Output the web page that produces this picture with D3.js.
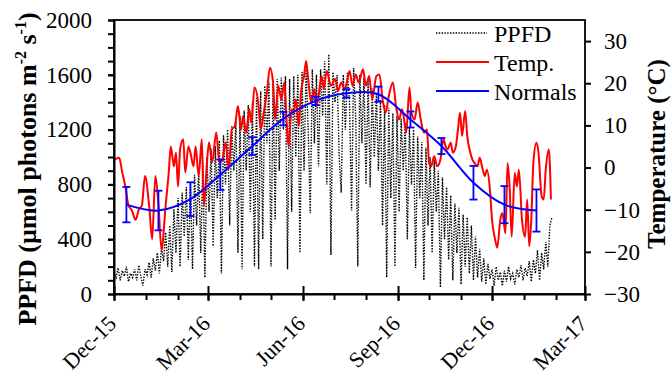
<!DOCTYPE html>
<html>
<head>
<meta charset="utf-8">
<script src="https://cdn.jsdelivr.net/npm/d3@7"></script>
<style>
  body { margin: 0; background: #fff; }
  svg { display: block; }
  text { font-family: "Times New Roman", "Liberation Serif", serif; fill: #000; }
</style>
</head>
<body>
<svg id="chart" width="672" height="376"></svg>
<script>
// ---- data ----
const startDate = new Date(2015, 11, 1);

// daily PPFD, one value every 2 days from Dec 1 2015
const ppfdStep = 2;
const ppfdValues = [
  160, 120, 190, 100, 170, 130, 200, 90, 150, 120, 180, 100, 210, 130, 60, 180,
  140, 230, 120, 260, 170, 300, 150, 340, 240, 450, 200, 500, 160, 620, 300, 700,
  200, 740, 420, 780, 250, 800, 180, 870, 500, 900, 300, 960, 120, 1000, 600, 1060,
  350, 1080, 700, 1120, 150, 1160, 800, 1200, 500, 1230, 900, 1260, 300, 1300, 180, 1340,
  900, 1380, 600, 1400, 200, 1430, 180, 1480, 400, 1520, 1100, 1550, 200, 1560, 540, 1570,
  900, 1580, 1200, 1590, 180, 1570, 600, 1590, 1000, 1600, 300, 1620, 900, 1650, 1200, 590,
  1640, 1100, 1600, 930, 1640, 1300, 1700, 800, 1750, 285, 1620, 1400, 1600, 1000, 740, 1600,
  1200, 1620, 1400, 610, 1650, 1300, 200, 1600, 1100, 1580, 800, 1560, 780, 1500, 1000, 1467,
  900, 1420, 500, 1380, 120, 1360, 700, 1320, 200, 1300, 600, 1280, 900, 1250, 400, 1220,
  800, 1200, 190, 1150, 700, 1110, 100, 1070, 500, 1000, 300, 980, 600, 900, 50, 850,
  400, 780, 250, 720, 100, 660, 300, 630, 70, 580, 200, 560, 150, 500, 100, 420,
  120, 330, 90, 260, 70, 220, 110, 180, 60, 200, 100, 160, 60, 170, 90, 200,
  110, 150, 70, 180, 120, 210, 100, 190, 130, 240, 90, 250, 150, 320, 100, 300,
  180, 380, 200, 500, 560
];

// daily air temperature (°C): day offset from Dec 1 2015, value
const tempDays = [
  0, 5, 8, 11, 14, 17, 21, 24, 27, 30, 34, 37, 40, 43, 46, 50, 53, 55, 58, 60,
  62, 64, 67, 69, 72, 74, 77, 79, 82, 85, 87, 90, 92, 95, 99, 102, 105, 108, 111, 114,
  117, 120, 123, 125, 128, 131, 133, 136, 140, 142, 145, 148, 151, 154, 156, 159, 162, 165, 167, 169,
  172, 174, 176, 179, 181, 184, 186, 188, 191, 194, 196, 198, 201, 203, 206, 210, 214, 217, 220, 223,
  225, 228, 231, 234, 237, 241, 244, 247, 250, 254, 257, 260, 263, 266, 270, 273, 276, 279, 283, 286,
  288, 291, 294, 297, 300, 303, 305, 307, 310, 313, 316, 319, 321, 323, 326, 328, 331, 333, 335, 337,
  340, 342, 345, 347, 349, 352, 354, 357, 359, 361, 364, 366, 369, 371, 374, 376, 379, 381, 383, 385,
  388, 390, 392, 395, 398, 400, 402, 404, 406, 409, 411, 414, 416, 418, 421, 423
];
const tempValues = [
  1.9, 2.3, -1.2, -4.5, -9, -10, -12.4, -10, -9, -2, -9, -17, -2, -8.6, -19.5, -9, -1.2, 5, 0.3, 3.5,
  -4.5, 4.3, 6.7, -1.2, 5, 3.5, 0.3, 5, -2, 6.7, -9.2, 1.2, 6, 1.2, 8.3, 1.2, 1.9, 6, -0.5, 9,
  9.8, 14.6, 9, 12.2, 8.3, 13.8, 10.6, 19, 14.6, 9, 13, 17.8, 23.7, 20.2, 11.4, 19.4, 16.2, 20.2, 11.4, 5,
  13.8, 13, 16.2, 9.8, 17.8, 21.7, 25.3, 21, 15.4, 18.6, 14.6, 17, 21.7, 18.6, 22.9, 19.4, 21, 18.2, 20.2, 18.6,
  19.8, 22.9, 19.4, 22.1, 20.2, 23.3, 19.4, 21.7, 16.2, 21.7, 22.1, 16.2, 13, 16.9, 20.2, 14.6, 11.4, 13.8, 8.3, 19,
  13, 11.4, 15.4, 11.4, 8.3, 9, 1.1, 0.3, 2.7, 0.3, 1.9, 6.7, 5.1, 4.3, 5.9, 3.5, 5.1, 9, 13, 7.5,
  13.4, 7.5, 3.5, 1.9, 1.1, 0.3, 2.3, -0.5, -2, -0.5, -5.3, -12.4, -17.1, -19, -12.4, -10.8, -15.6, 1.1, -4.5, -16.4,
  -1.3, -4.5, -0.5, -12.4, -16.4, -7.6, -18.7, -12.4, 1.1, 5.9, 3.5, -6.8, -7.6, -0.5, 4.3, -7.6
];

// monthly climate normals (°C) with standard deviation, Dec 2015 .. Jan 2017
const normalMonths = [
  [2015, 11], [2016, 0], [2016, 1], [2016, 2], [2016, 3], [2016, 4], [2016, 5],
  [2016, 6], [2016, 7], [2016, 8], [2016, 9], [2016, 10], [2016, 11], [2017, 0]
];
const normalValues = [-8.8, -10.2, -7.5, -1.7, 5.1, 11.6, 15.8, 17.6, 17.4, 11.4, 5.1, -3.6, -8.8, -10.2];
const normalErrors = [4.2, 4.7, 4, 3.6, 2.1, 1.6, 1, 1, 1.8, 1.9, 1.9, 4, 4.4, 5];

const xTickLabels = ["Dec-15", "Mar-16", "Jun-16", "Sep-16", "Dec-16", "Mar-17"];
const ppfdTicks = [0, 400, 800, 1200, 1600, 2000];
const tempTicks = [-30, -20, -10, 0, 10, 20, 30];
const legendLabels = ["PPFD", "Temp.", "Normals"];

// ---- layout ----
const svg = d3.select('#chart');
const plot = { left: 114, right: 585, top: 20, bottom: 294 };

const parseTick = d3.timeParse('%b-%y');
const x = d3.scaleTime()
  .domain([startDate, new Date(2017, 2, 1)])
  .range([plot.left, plot.right]);
const yPpfd = d3.scaleLinear().domain([0, 2000]).range([plot.bottom, plot.top]);
const yTemp = d3.scaleLinear().domain([-30, 35]).range([plot.bottom, plot.top]);

const ppfdData = ppfdValues.map((v, i) => ({ date: d3.timeDay.offset(startDate, i * ppfdStep), v }));
const tempData = tempDays.map((d, i) => ({ date: d3.timeDay.offset(startDate, d), v: tempValues[i] }));
const normalData = normalMonths.map((m, i) => ({
  date: new Date(m[0], m[1], 13), v: normalValues[i], e: normalErrors[i]
}));

// series
svg.append('path')
  .datum(ppfdData)
  .attr('fill', 'none')
  .attr('stroke', '#000')
  .attr('stroke-width', 1.4)
  .attr('stroke-dasharray', '1.4,1.4')
  .attr('d', d3.line().x(d => x(d.date)).y(d => yPpfd(d.v)));

svg.append('path')
  .datum(tempData)
  .attr('fill', 'none')
  .attr('stroke', '#ff0000')
  .attr('stroke-width', 2)
  .attr('stroke-linejoin', 'round')
  .attr('d', d3.line().curve(d3.curveMonotoneX).x(d => x(d.date)).y(d => yTemp(d.v)));

svg.append('path')
  .datum(normalData)
  .attr('fill', 'none')
  .attr('stroke', '#0000ff')
  .attr('stroke-width', 2)
  .attr('d', d3.line().curve(d3.curveCatmullRom).x(d => x(d.date)).y(d => yTemp(d.v)));

// error bars
const err = svg.append('g').attr('stroke', '#0000ff').attr('stroke-width', 1.8);
normalData.forEach(d => {
  const cx = x(d.date), y0 = yTemp(d.v - d.e), y1 = yTemp(d.v + d.e);
  err.append('line').attr('x1', cx).attr('x2', cx).attr('y1', y0).attr('y2', y1);
  err.append('line').attr('x1', cx - 4).attr('x2', cx + 4).attr('y1', y0).attr('y2', y0);
  err.append('line').attr('x1', cx - 4).attr('x2', cx + 4).attr('y1', y1).attr('y2', y1);
});

// frame
svg.append('rect')
  .attr('x', plot.left).attr('y', plot.top)
  .attr('width', plot.right - plot.left).attr('height', plot.bottom - plot.top)
  .attr('fill', 'none').attr('stroke', '#000').attr('stroke-width', 1.8);

// left axis: minor ticks every 100, labels every 400
svg.append('g')
  .attr('transform', `translate(${plot.left},0)`)
  .call(d3.axisLeft(yPpfd).tickValues(d3.range(0, 2001, 100)).tickSize(6).tickSizeOuter(0).tickFormat(''))
  .call(g => g.selectAll('line,path').attr('stroke-width', 2));
svg.append('g')
  .attr('transform', `translate(${plot.left},0)`)
  .call(d3.axisLeft(yPpfd).tickValues(ppfdTicks).tickSize(6).tickSizeOuter(0).tickPadding(16).tickFormat(d3.format('d')))
  .call(g => g.select('.domain').remove())
  .call(g => g.selectAll('line').attr('stroke-width', 2))
  .call(g => g.selectAll('text').style('font-size', '23px').attr('font-family', null));

// right axis
svg.append('g')
  .attr('transform', `translate(${plot.right},0)`)
  .call(d3.axisRight(yTemp).tickValues(tempTicks).tickSize(6).tickSizeOuter(0).tickPadding(13).tickFormat(d3.format('d')))
  .call(g => g.select('.domain').remove())
  .call(g => g.selectAll('line').attr('stroke-width', 2))
  .call(g => g.selectAll('text').style('font-size', '23px').attr('font-family', null));

// bottom axis: monthly minor ticks outward, quarterly major ticks crossing
const xMajor = xTickLabels.map(parseTick);
svg.append('g')
  .attr('transform', `translate(0,${plot.bottom})`)
  .call(d3.axisBottom(x).tickValues(d3.timeMonth.range(startDate, new Date(2017, 2, 2))).tickSize(6).tickSizeOuter(0).tickFormat(''))
  .call(g => g.selectAll('line,path').attr('stroke-width', 2));
svg.append('g')
  .attr('transform', `translate(0,${plot.bottom})`)
  .call(d3.axisBottom(x).tickValues(xMajor).tickSize(7).tickSizeOuter(0).tickFormat(d3.timeFormat('%b-%y')))
  .call(g => g.select('.domain').remove())
  .call(g => g.selectAll('line').attr('y1', -8).attr('stroke-width', 2))
  .call(g => g.selectAll('text')
    .style('font-size', '22px').attr('font-family', null)
    .attr('text-anchor', 'end').attr('y', 0).attr('dy', null)
    .attr('transform', 'translate(3,31) rotate(-45)'));

// axis titles
const leftTitle = svg.append('text')
  .attr('transform', 'translate(36,169) rotate(-90)')
  .attr('text-anchor', 'middle')
  .style('font-size', '26px').style('font-weight', 'bold');
leftTitle.append('tspan').text('PPFD (\u00b5mol photons m');
leftTitle.append('tspan').attr('dy', -10).style('font-size', '16px').text('-2');
leftTitle.append('tspan').attr('dy', 10).text(' s');
leftTitle.append('tspan').attr('dy', -10).style('font-size', '16px').text('-1');
leftTitle.append('tspan').attr('dy', 10).text(')');

svg.append('text')
  .attr('transform', 'translate(665,154) rotate(-90)')
  .attr('text-anchor', 'middle')
  .style('font-size', '25px').style('font-weight', 'bold')
  .text('Temperature (\u00b0C)');

// legend
const legendStyles = [
  { stroke: '#000', width: 1.4, dash: '1.4,1.4', x2: 487 },
  { stroke: '#ff0000', width: 2, dash: null, x2: 489 },
  { stroke: '#0000ff', width: 2, dash: null, x2: 489 }
];
const legendY = d3.scalePoint().domain(legendLabels).range([33, 91]);
legendLabels.forEach((label, i) => {
  const s = legendStyles[i];
  const ly = legendY(label);
  svg.append('line')
    .attr('x1', 436).attr('x2', s.x2).attr('y1', ly).attr('y2', ly)
    .attr('stroke', s.stroke).attr('stroke-width', s.width)
    .attr('stroke-dasharray', s.dash);
  svg.append('text')
    .attr('x', 494).attr('y', ly + 8.5)
    .style('font-size', '24px')
    .text(label);
});
</script>
</body>
</html>
